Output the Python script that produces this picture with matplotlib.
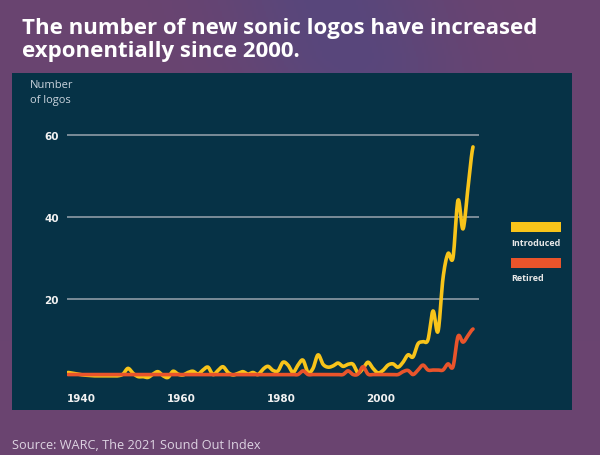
import matplotlib
matplotlib.use('Agg')
import matplotlib.pyplot as plt
import matplotlib.transforms as mtransforms
import numpy as np
from matplotlib.patches import Rectangle

### data (annual counts)
years = list(range(1938, 2020))
introduced = [2.0, 1.8, 1.6, 1.4, 1.3, 1.2, 1.2, 1.2, 1.2, 1.2,    # 1938-1947
              1.2, 1.6, 3.0, 1.8, 1.0, 1.0, 0.8, 1.6, 2.2, 1.2,    # 1948-1957
              0.8, 2.3, 1.6, 1.4, 2.0, 2.3, 1.6, 2.6, 3.3, 1.5,    # 1958-1967
              2.5, 3.4, 2.0, 1.4, 1.8, 2.2, 1.6, 2.0, 1.5, 2.8,    # 1968-1977
              3.5, 2.5, 2.4, 4.5, 3.8, 2.0, 3.8, 5.0, 2.0, 3.0,    # 1978-1987
              6.3, 4.0, 3.3, 3.6, 4.3, 3.5, 4.0, 4.0, 1.9, 3.0,    # 1988-1997
              4.5, 3.0, 1.9, 2.5, 3.8, 4.1, 3.3, 4.5, 6.3, 5.8,    # 1998-2007
              9.0, 9.5, 10.0, 17.0, 12.0, 25.0, 31.0, 30.0, 44.0, 37.0,  # 2008-2017
              47.0, 57.0]                                          # 2018-2019
retired = [1.5] * 47 + [2.4] + [1.5] * 8 + [2.4, 1.5, 1.6, 3.4, 1.6,      # 1938-1998
           1.5, 1.5, 1.5, 1.5, 1.5, 1.5, 2.2, 2.5, 1.5, 2.6,              # 1999-2008
           3.8, 2.6, 2.6, 2.6, 2.6, 4.1, 3.4, 10.8, 9.4, 11.0, 12.6]      # 2009-2019
series_names = ['Introduced', 'Retired']
colors = ['#f8c41a', '#e9542b']
yticks = [20, 40, 60]
xticks = [1940, 1960, 1980, 2000]

title = 'The number of new sonic logos have increased\nexponentially since 2000.'
source = 'Source: WARC, The 2021 Sound Out Index'


def smooth(x, y, n=12):
    # catmull-rom curve through the annual points, for drawing only
    x = np.asarray(x, float)
    y = np.asarray(y, float)
    p = np.concatenate([[y[0]], y, [y[-1]]])
    t = np.linspace(0, 1, n, endpoint=False)
    xs, ys = [], []
    for i in range(len(y) - 1):
        p0, p1, p2, p3 = p[i], p[i + 1], p[i + 2], p[i + 3]
        seg = 0.5 * (2 * p1 + (p2 - p0) * t + (2 * p0 - 5 * p1 + 4 * p2 - p3) * t ** 2
                     + (3 * p1 - p0 - 3 * p2 + p3) * t ** 3)
        xs.append(x[i] + (x[i + 1] - x[i]) * t)
        ys.append(seg)
    xs.append([x[-1]])
    ys.append([y[-1]])
    return np.concatenate(xs), np.concatenate(ys)


plt.rcParams['font.family'] = ['Open Sans', 'DejaVu Sans']

fig = plt.figure(figsize=(6.0, 4.56), dpi=100)

# purple background with a soft lighter band
bg = fig.add_axes([0, 0, 1, 1], zorder=-10)
gx, gy = np.meshgrid(np.linspace(0, 1, 300), np.linspace(0, 1, 228))
band = np.exp(-((gx - 0.55 - 0.25 * gy) / 0.18) ** 2) * np.clip(1.2 - gy * 1.6, 0, 1)
c1 = np.array([0x6a, 0x44, 0x70]) / 255
c2 = np.array([0x58, 0x47, 0x7c]) / 255
img = c1[None, None, :] * (1 - band[..., None]) + c2[None, None, :] * band[..., None]
bg.imshow(img, aspect='auto', extent=[0, 1, 0, 1])
bg.set_axis_off()

# dark chart panel
fig.patches.append(Rectangle((12 / 600, 45 / 456), 560 / 600, 337 / 456,
                             transform=fig.transFigure, facecolor='#063246',
                             edgecolor='none', zorder=-5))

ax = fig.add_axes([67 / 600, 70 / 456, 412 / 600, 266 / 456])
ax.patch.set_alpha(0)
ax.set_xlim(1937.8, 2020.2)
ax.set_ylim(-1.05, 63.8)

for v in yticks:
    ax.axhline(v, color='#8d9ba6', lw=1.2, zorder=1)

for vals, name, c in zip([introduced, retired], series_names, colors):
    sx, sy = smooth(years, vals)
    ax.plot(sx, sy, color=c, lw=2.6, solid_capstyle='round', zorder=3, label=name)

ax.set_yticks(yticks)
ax.set_xticks(xticks)
ax.tick_params(length=0, colors='#f2f2f2', labelsize=7.5)
ax.tick_params(axis='y', pad=6)
ax.tick_params(axis='x', pad=6)
shift = mtransforms.ScaledTranslation(3 / 100, 0, fig.dpi_scale_trans)
for lab in ax.get_xticklabels() + ax.get_yticklabels():
    lab.set_fontweight('bold')
    lab.set_family('DejaVu Sans')
for lab in ax.get_xticklabels():
    lab.set_transform(lab.get_transform() + shift)
for s in ax.spines.values():
    s.set_visible(False)

# axis title
fig.text(30 / 600, 1 - 93 / 456, 'Number\nof logos', color='#c9d3dc', fontsize=8,
         ha='left', va='center', linespacing=1.4)

# legend boxes
for i, (name, c) in enumerate(zip(series_names, colors)):
    y0 = 223 + i * 36
    fig.patches.append(Rectangle((511 / 600, 1 - (y0 + 10) / 456), 50 / 600, 10 / 456,
                                 transform=fig.transFigure, facecolor=c, edgecolor='none'))
    fig.text(511 / 600, 1 - (y0 + 20) / 456, name, color='#e8e8e8', fontsize=6.5,
             fontweight='bold', ha='left', va='center')

fig.text(22 / 600, 1 - 40 / 456, title, color='white', fontsize=16, fontweight='bold',
         ha='left', va='center', linespacing=1.1)
fig.text(12 / 600, 1 - 446 / 456, source, color='#ddd3e2', fontsize=9.2,
         ha='left', va='center')

fig.savefig('out.png', dpi=100)
